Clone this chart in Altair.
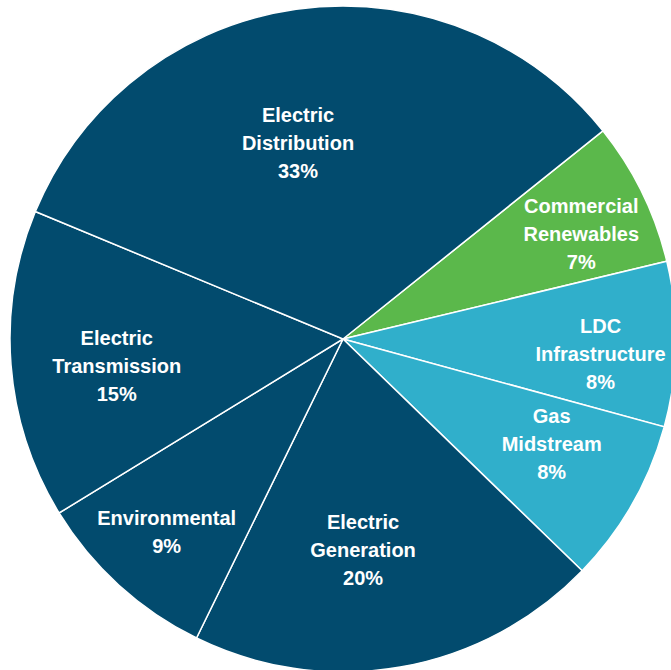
import math
import altair as alt
import pandas as pd

categories = ["Commercial Renewables", "LDC Infrastructure", "Gas Midstream",
              "Electric Generation", "Environmental", "Electric Transmission",
              "Electric Distribution"]
values = [7, 8, 8, 20, 9, 15, 33]
label_lines = ["Commercial\nRenewables", "LDC\nInfrastructure", "Gas\nMidstream",
               "Electric\nGeneration", "Environmental", "Electric\nTransmission",
               "Electric\nDistribution"]

NAVY = "#024B6E"
GREEN = "#5BB84B"
CYAN = "#30AFCB"
colors = [GREEN, CYAN, CYAN, NAVY, NAVY, NAVY, NAVY]

# label placement (layout only): distance from centre and angular nudge in degrees
label_radius = {"Commercial Renewables": 260, "LDC Infrastructure": 258,
                "Gas Midstream": 234, "Electric Generation": 213,
                "Environmental": 262, "Electric Transmission": 228,
                "Electric Distribution": 200}
label_nudge = {"Commercial Renewables": 2.5, "LDC Infrastructure": 2.6,
               "Gas Midstream": -2.8, "Electric Generation": 4.5,
               "Environmental": 0, "Electric Transmission": -2.6,
               "Electric Distribution": -4.9}

total = sum(values)
df = pd.DataFrame({
    "cat": categories,
    "value": values,
    "idx": list(range(len(categories))),
    "label": [f"{l}\n{v}%" for l, v in zip(label_lines, values)],
})
df["lr"] = df["cat"].map(label_radius)
df["nudge"] = df["cat"].map(label_nudge) / 360 * total
df["nlines"] = df["label"].str.count("\n") + 1

start = math.radians(51.3)
tscale = alt.Scale(domain=[0, total], range=[start, start + 2 * math.pi])
CX, CY, R = 343, 339, 333
LH = 28

base = alt.Chart(df).transform_window(
    cum="sum(value)", sort=[alt.SortField("idx")], frame=[None, 0]
).transform_calculate(
    t0="datum.cum - datum.value", tmid="datum.cum - datum.value / 2 + datum.nudge"
)

arcs = base.mark_arc(stroke="white", strokeWidth=1.5, radius=R).encode(
    theta=alt.Theta("t0:Q", scale=tscale),
    theta2="cum:Q",
    color=alt.Color("cat:N", scale=alt.Scale(domain=categories, range=colors), legend=None),
    x=alt.value(CX), y=alt.value(CY),
)

def text_layer(n):
    return base.transform_filter(f"datum.nlines == {n}").mark_text(
        font="Liberation Sans", fontSize=20, fontWeight="bold", color="white",
        lineBreak="\n", lineHeight=LH, align="center", baseline="middle",
        dy=-(n - 1) * LH / 2,
    ).encode(
        theta=alt.Theta("tmid:Q", scale=tscale),
        radius=alt.Radius("lr:Q", scale=None),
        text="label:N",
        x=alt.value(CX), y=alt.value(CY),
    )

chart = alt.layer(arcs, text_layer(2), text_layer(3)).properties(
    width=671, height=670, padding=0, autosize=alt.AutoSizeParams(type="none"),
    background="white",
).configure_view(stroke=None)

chart.save("out.html", embed_options={"renderer": "svg", "actions": False})
